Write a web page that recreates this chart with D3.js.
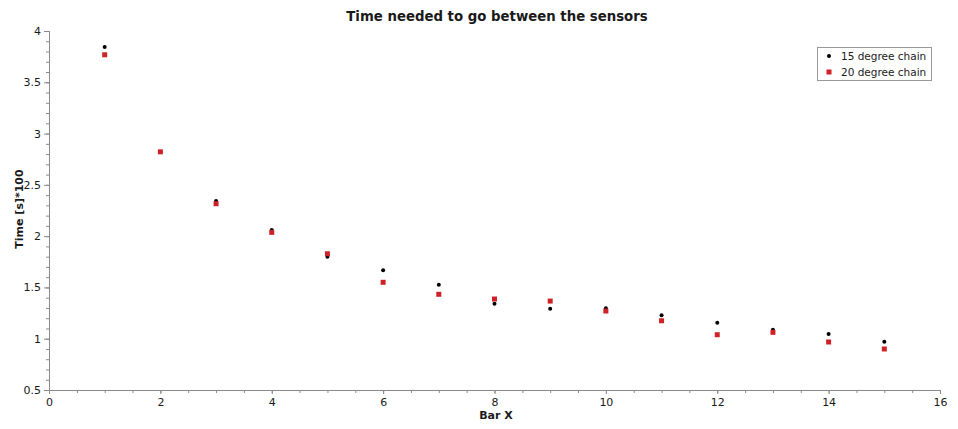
<!DOCTYPE html>
<html><head><meta charset="utf-8">
<script src="https://cdn.jsdelivr.net/npm/d3@7"></script>
<style>
body{margin:0;background:#fff;}
text{font-family:"DejaVu Sans",Verdana,sans-serif;fill:#1a1a1a;}
</style></head>
<body><svg id="c" width="958" height="429"></svg>
<script>
const barX = [1,2,3,4,5,6,7,8,9,10,11,12,13,14,15];
const chain15 = [3.845,2.82,2.342,2.059,1.799,1.667,1.526,1.341,1.292,1.296,1.228,1.156,1.088,1.046,0.971];
const chain20 = [3.768,2.822,2.316,2.037,1.828,1.550,1.433,1.387,1.367,1.270,1.175,1.039,1.062,0.968,0.900];
const seriesNames = ["15 degree chain","20 degree chain"];
const xTicks = [0,2,4,6,8,10,12,14,16];
const yTicks = [0.5,1,1.5,2,2.5,3,3.5,4];
const titleText = "Time needed to go between the sensors";
const xLabel = "Bar X";
const yLabel = "Time [s]*100";

const svg = d3.select("#c");
const x = d3.scaleLinear().domain([0,16]).range([49,940]);
const y = d3.scaleLinear().domain([0.5,4]).range([390,31]);
const axisCol = "#8a8a8a";

// minor ticks
const gx = svg.append("g").attr("transform","translate(0,390)");
gx.call(d3.axisBottom(x).tickValues(d3.range(0,16.01,0.5)).tickSize(3).tickFormat(""));
gx.append("g").call(d3.axisBottom(x).tickValues(xTicks).tickSize(4).tickPadding(4).tickFormat(d3.format("d")));
gx.selectAll("path,line").attr("stroke",axisCol);
gx.selectAll("text").attr("font-size","11px").style("font-family","DejaVu Sans").attr("fill","#1a1a1a");

const gy = svg.append("g").attr("transform","translate(49,0)");
gy.call(d3.axisLeft(y).tickValues(d3.range(5,40.5,1).map(v=>v/10)).tickSize(3).tickFormat(""));
gy.append("g").call(d3.axisLeft(y).tickValues(yTicks).tickSize(5).tickPadding(3).tickFormat(d3.format("")));
gy.selectAll("path,line").attr("stroke",axisCol);
gy.selectAll("text").attr("font-size","11px").style("font-family","DejaVu Sans").attr("fill","#1a1a1a");

// title and labels
svg.append("text").attr("x",497).attr("y",21).attr("text-anchor","middle")
  .attr("font-size","13.3px").attr("font-weight","bold").text(titleText);
svg.append("text").attr("x",496).attr("y",419).attr("text-anchor","middle")
  .attr("font-size","11px").attr("font-weight","bold").text(xLabel);
svg.append("text").attr("transform","translate(23,209) rotate(-90)").attr("text-anchor","middle")
  .attr("font-size","11px").attr("font-weight","bold").text(yLabel);

// data
const red = "#cf2228";
svg.append("g").selectAll("circle").data(barX).join("circle")
  .attr("cx",d=>x(d)).attr("cy",(d,i)=>y(chain15[i])).attr("r",2).attr("fill","#000");
svg.append("g").selectAll("rect").data(barX).join("rect")
  .attr("x",(d)=>x(d)-2.5).attr("y",(d,i)=>y(chain20[i])-2.5)
  .attr("width",5).attr("height",5).attr("fill",red);

// legend
const lg = svg.append("g");
lg.append("rect").attr("x",817.5).attr("y",47.5).attr("width",114).attr("height",33)
  .attr("fill","#fff").attr("stroke","#999");
lg.append("circle").attr("cx",829).attr("cy",56).attr("r",2).attr("fill","#000");
lg.append("rect").attr("x",826.5).attr("y",69.5).attr("width",5).attr("height",5).attr("fill",red);
seriesNames.forEach((n,i)=>{
  lg.append("text").attr("x",841).attr("y",60+i*16).attr("font-size","10.5px").text(n);
});
</script></body></html>
